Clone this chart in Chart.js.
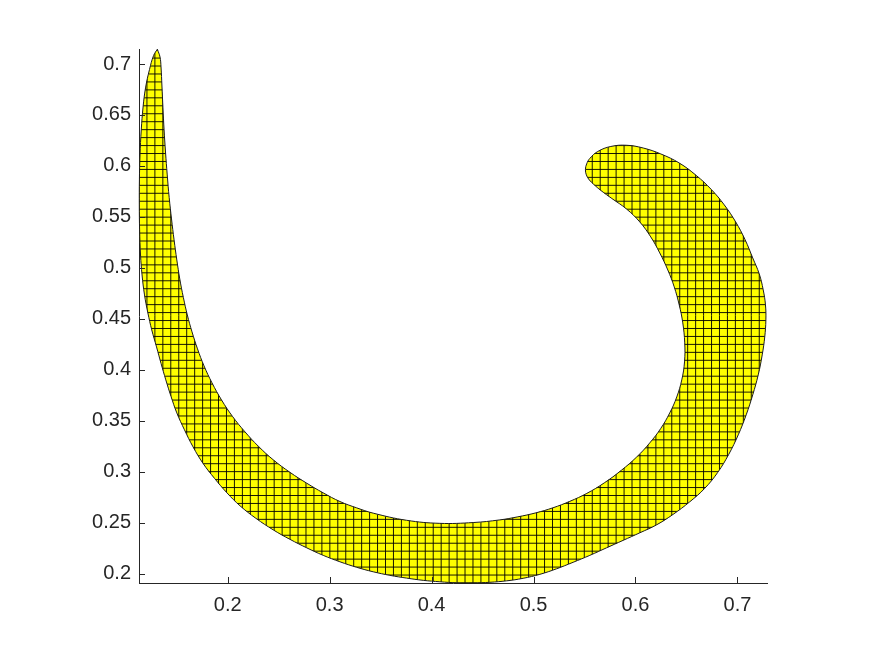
<!DOCTYPE html>
<html>
<head>
<meta charset="utf-8">
<script src="https://cdn.jsdelivr.net/npm/chart.js@4.4.1/dist/chart.umd.min.js"></script>
<style>
  html, body { margin: 0; padding: 0; background: #fff; }
  canvas { display: block; }
</style>
</head>
<body>
<canvas id="c" width="875" height="656"></canvas>
<script>
// outer edge of the crescent: from the tip, down the left, along the bottom, up the right, over the cap
const outerX = [0.1310, 0.1273, 0.1233, 0.1194, 0.1170, 0.1152, 0.1140, 0.1134, 0.1133, 0.1136,
  0.1145, 0.1160, 0.1184, 0.1217, 0.1255, 0.1302, 0.1346, 0.1393, 0.1444, 0.1501,
  0.1576, 0.1660, 0.1758, 0.1871, 0.1993, 0.2121, 0.2277, 0.2447, 0.2611, 0.2775,
  0.2937, 0.3101, 0.3265, 0.3427, 0.3591, 0.3755, 0.3918, 0.4081, 0.4245, 0.4408,
  0.4572, 0.4735, 0.4898, 0.5062, 0.5225, 0.5388, 0.5552, 0.5716, 0.5878, 0.6042,
  0.6206, 0.6369, 0.6532, 0.6679, 0.6807, 0.6915, 0.7008, 0.7086, 0.7150, 0.7204,
  0.7243, 0.7268, 0.7279, 0.7275, 0.7253, 0.7214, 0.7150, 0.7076, 0.6983, 0.6871,
  0.6743, 0.6596, 0.6429, 0.6248, 0.6076, 0.5912, 0.5758, 0.5630, 0.5552, 0.5521,
  0.5509];
const outerY = [0.7145, 0.7083, 0.6946, 0.6765, 0.6578, 0.6353, 0.6108, 0.5863, 0.5618, 0.5373,
  0.5127, 0.4931, 0.4735, 0.4559, 0.4392, 0.4225, 0.4064, 0.3902, 0.3740, 0.3578,
  0.3412, 0.3245, 0.3083, 0.2936, 0.2794, 0.2667, 0.2544, 0.2431, 0.2338, 0.2255,
  0.2181, 0.2118, 0.2064, 0.2020, 0.1985, 0.1958, 0.1936, 0.1922, 0.1912, 0.1911,
  0.1917, 0.1931, 0.1956, 0.1995, 0.2049, 0.2113, 0.2181, 0.2255, 0.2328, 0.2402,
  0.2480, 0.2583, 0.2706, 0.2838, 0.2995, 0.3172, 0.3363, 0.3559, 0.3755, 0.3951,
  0.4147, 0.4324, 0.4490, 0.4637, 0.4784, 0.4941, 0.5098, 0.5275, 0.5451, 0.5618,
  0.5770, 0.5907, 0.6029, 0.6118, 0.6176, 0.6203, 0.6191, 0.6142, 0.6074, 0.6020,
  0.5966];
// inner edge, from the cap back round to the tip
const innerX = [0.5518, 0.5547, 0.5591, 0.5660, 0.5768, 0.5912, 0.6042, 0.6150, 0.6238, 0.6317,
  0.6380, 0.6429, 0.6464, 0.6483, 0.6481, 0.6454, 0.6405, 0.6336, 0.6248, 0.6140,
  0.6013, 0.5861, 0.5694, 0.5523, 0.5356, 0.5189, 0.5023, 0.4846, 0.4670, 0.4408,
  0.4081, 0.3755, 0.3427, 0.3265, 0.3101, 0.2937, 0.2775, 0.2611, 0.2447, 0.2302,
  0.2170, 0.2047, 0.1939, 0.1846, 0.1768, 0.1704, 0.1650, 0.1604, 0.1565, 0.1530,
  0.1501, 0.1474, 0.1449, 0.1426, 0.1407, 0.1390, 0.1376, 0.1365, 0.1355, 0.1346,
  0.1336];
const innerY = [0.5912, 0.5863, 0.5819, 0.5760, 0.5681, 0.5578, 0.5451, 0.5304, 0.5147, 0.4980,
  0.4814, 0.4637, 0.4461, 0.4265, 0.4078, 0.3902, 0.3735, 0.3578, 0.3426, 0.3284,
  0.3147, 0.3015, 0.2892, 0.2789, 0.2711, 0.2647, 0.2598, 0.2559, 0.2529, 0.2503,
  0.2495, 0.2525, 0.2595, 0.2647, 0.2709, 0.2794, 0.2889, 0.2995, 0.3118, 0.3250,
  0.3392, 0.3544, 0.3706, 0.3873, 0.4039, 0.4206, 0.4373, 0.4539, 0.4711, 0.4892,
  0.5078, 0.5275, 0.5480, 0.5691, 0.5912, 0.6137, 0.6353, 0.6569, 0.6784, 0.6971,
  0.7069];

const xTicks = [0.2, 0.3, 0.4, 0.5, 0.6, 0.7];
const yTicks = [0.2, 0.25, 0.3, 0.35, 0.4, 0.45, 0.5, 0.55, 0.6, 0.65, 0.7];
const xLimits = [0.113, 0.729];
const yLimits = [0.191, 0.7147];
const meshStep = 0.0078;

const pts = [];
outerX.forEach((x, i) => pts.push({x: x, y: outerY[i]}));
innerX.forEach((x, i) => pts.push({x: x, y: innerY[i]}));
pts.push({x: outerX[0], y: outerY[0]});

const axisColor = '#262626';
const tickFont = {family: '"Liberation Sans", Arial, sans-serif', size: 20};
const fmt = v => String(+v.toFixed(2));

// yellow fill plus the black mesh, clipped to the crescent
const meshPlugin = {
  id: 'mesh',
  beforeDatasetsDraw(chart) {
    const line = chart.getDatasetMeta(0).dataset;
    const xs = chart.scales.x, ys = chart.scales.y;
    const ctx = chart.ctx;
    ctx.save();
    ctx.beginPath();
    line.path(ctx);
    ctx.closePath();
    ctx.fillStyle = '#ffff00';
    ctx.fill();
    ctx.clip();
    ctx.strokeStyle = 'rgba(0,0,0,0.9)';
    ctx.lineWidth = 1;
    ctx.beginPath();
    for (let v = xLimits[0]; v <= xLimits[1]; v += meshStep) {
      const p = xs.getPixelForValue(v);
      ctx.moveTo(p, ys.top - 5);
      ctx.lineTo(p, ys.bottom);
    }
    for (let v = yLimits[0]; v <= yLimits[1]; v += meshStep) {
      const p = ys.getPixelForValue(v);
      ctx.moveTo(xs.left, p);
      ctx.lineTo(xs.right, p);
    }
    ctx.stroke();
    ctx.restore();
  },
  afterDraw(chart) {
    // matlab style ticks, pointing inwards
    const xs = chart.scales.x, ys = chart.scales.y;
    const ctx = chart.ctx;
    ctx.save();
    ctx.strokeStyle = axisColor;
    ctx.lineWidth = 1;
    ctx.beginPath();
    xTicks.forEach(v => {
      const p = Math.round(xs.getPixelForValue(v)) + 0.5;
      ctx.moveTo(p, ys.bottom);
      ctx.lineTo(p, ys.bottom - 6);
    });
    yTicks.forEach(v => {
      const p = Math.round(ys.getPixelForValue(v)) + 0.5;
      ctx.moveTo(xs.left, p);
      ctx.lineTo(xs.left + 6, p);
    });
    ctx.stroke();
    ctx.restore();
  }
};

new Chart(document.getElementById('c'), {
  type: 'scatter',
  data: {
    datasets: [{
      data: pts,
      showLine: true,
      fill: false,
      tension: 0.4,
      clip: false,
      borderColor: '#1a1a1a',
      borderWidth: 1,
      pointRadius: 0,
      pointHoverRadius: 0
    }]
  },
  options: {
    responsive: false,
    animation: false,
    events: [],
    elements: {line: {capBezierPoints: false}},
    layout: {padding: {top: 49, right: 108, left: 0, bottom: 0}},
    plugins: {legend: {display: false}, tooltip: {enabled: false}},
    scales: {
      x: {
        type: 'linear',
        min: xLimits[0],
        max: xLimits[1],
        afterBuildTicks: s => { s.ticks = xTicks.map(v => ({value: v})); },
        afterFit: s => { s.height = 73; },
        grid: {drawOnChartArea: false, drawTicks: false},
        border: {display: true, color: axisColor, width: 1},
        ticks: {color: axisColor, font: tickFont, padding: 10, maxRotation: 0, callback: fmt}
      },
      y: {
        type: 'linear',
        min: yLimits[0],
        max: yLimits[1],
        afterBuildTicks: s => { s.ticks = yTicks.map(v => ({value: v})); },
        afterFit: s => { s.width = 139; },
        grid: {drawOnChartArea: false, drawTicks: false},
        border: {display: true, color: axisColor, width: 1},
        ticks: {color: axisColor, font: tickFont, padding: 8, callback: fmt}
      }
    }
  },
  plugins: [meshPlugin]
});
</script>
</body>
</html>
